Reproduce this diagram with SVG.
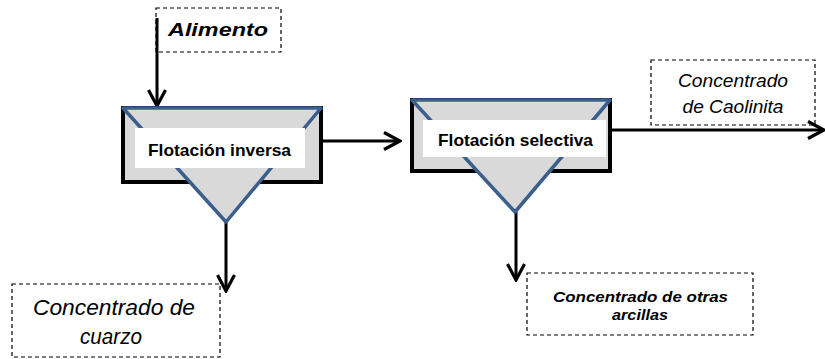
<svg xmlns="http://www.w3.org/2000/svg" width="825" height="359" viewBox="0 0 825 359">
  <style>
    .bg { fill: #ffffff; }
    .tank { fill: #d9d9d9; stroke: #000000; stroke-width: 4; }
    .cone { fill: #d9d9d9; stroke: #3b5e8c; stroke-width: 3.5; stroke-linejoin: round; }
    .label { fill: #ffffff; stroke: none; }
    .tag { fill: none; stroke: #000000; stroke-width: 1.2; stroke-dasharray: 4 3; }
    .flow { fill: none; stroke: #000000; stroke-width: 3; }
    .head { fill: none; stroke: #000000; stroke-width: 3.2; stroke-linejoin: miter; }
    .txt { font-family: "Liberation Sans", Arial, sans-serif; fill: #000000; }
    .unit { font-size: 17px; font-weight: bold; }
    .bi { font-weight: bold; font-style: italic; }
    .it { font-style: italic; }
  </style>
  <defs>
    <marker id="chevron" viewBox="-18 -10 20 20" refX="0" refY="0" markerWidth="20" markerHeight="20" markerUnits="userSpaceOnUse" orient="auto">
      <path d="M -16 -8.5 L 0 0 L -16 8.5" class="head"/>
    </marker>
  </defs>

  <rect class="bg" x="0" y="0" width="825" height="359"/>

  <!-- connectors -->
  <g id="connectors">
    <line class="flow" x1="157" y1="18" x2="157" y2="106" marker-end="url(#chevron)"/>
    <line class="flow" x1="321" y1="141" x2="400" y2="141" marker-end="url(#chevron)"/>
    <line class="flow" x1="610" y1="130" x2="824" y2="130" marker-end="url(#chevron)"/>
    <line class="flow" x1="226" y1="222" x2="226" y2="291" marker-end="url(#chevron)"/>
    <line class="flow" x1="516" y1="212" x2="516" y2="280" marker-end="url(#chevron)"/>
  </g>

  <!-- feed tag -->
  <g id="alimento">
    <rect class="tag" x="156" y="8" width="125" height="44"/>
    <text class="txt bi" x="218" y="36" font-size="18" text-anchor="middle" textLength="100" lengthAdjust="spacingAndGlyphs">Alimento</text>
  </g>

  <!-- reverse flotation cell -->
  <g id="flotacion-inversa">
    <rect class="tank" x="123" y="108" width="198" height="74"/>
    <polygon class="cone" points="123,108 321,108 226,222"/>
    <rect class="label" x="135" y="128" width="170" height="40"/>
    <text class="txt unit" x="219.5" y="156" text-anchor="middle" textLength="143" lengthAdjust="spacingAndGlyphs">Flotación inversa</text>
  </g>

  <!-- selective flotation cell -->
  <g id="flotacion-selectiva">
    <rect class="tank" x="412" y="100" width="198" height="71"/>
    <polygon class="cone" points="412,100 610,100 515,212"/>
    <rect class="label" x="423" y="120" width="183" height="37"/>
    <text class="txt unit" x="515.5" y="146" text-anchor="middle" textLength="155" lengthAdjust="spacingAndGlyphs">Flotación selectiva</text>
  </g>

  <!-- kaolinite concentrate -->
  <g id="concentrado-caolinita">
    <rect class="tag" x="651" y="60" width="164" height="65"/>
    <text class="txt it" x="733" y="87" font-size="19" text-anchor="middle" textLength="110" lengthAdjust="spacingAndGlyphs">Concentrado</text>
    <text class="txt it" x="733" y="113" font-size="19" text-anchor="middle" textLength="101" lengthAdjust="spacingAndGlyphs">de Caolinita</text>
  </g>

  <!-- quartz concentrate -->
  <g id="concentrado-cuarzo">
    <rect class="tag" x="12" y="284" width="208" height="73"/>
    <text class="txt it" x="114" y="315" font-size="22" text-anchor="middle" textLength="162" lengthAdjust="spacingAndGlyphs">Concentrado de</text>
    <text class="txt it" x="111" y="344" font-size="22" text-anchor="middle" textLength="62" lengthAdjust="spacingAndGlyphs">cuarzo</text>
  </g>

  <!-- other clays concentrate -->
  <g id="concentrado-arcillas">
    <rect class="tag" x="527" y="273" width="226" height="62"/>
    <text class="txt bi" x="640.5" y="302" font-size="15.5" text-anchor="middle" textLength="175" lengthAdjust="spacingAndGlyphs">Concentrado de otras</text>
    <text class="txt bi" x="640" y="320" font-size="15.5" text-anchor="middle" textLength="56" lengthAdjust="spacingAndGlyphs">arcillas</text>
  </g>
</svg>
